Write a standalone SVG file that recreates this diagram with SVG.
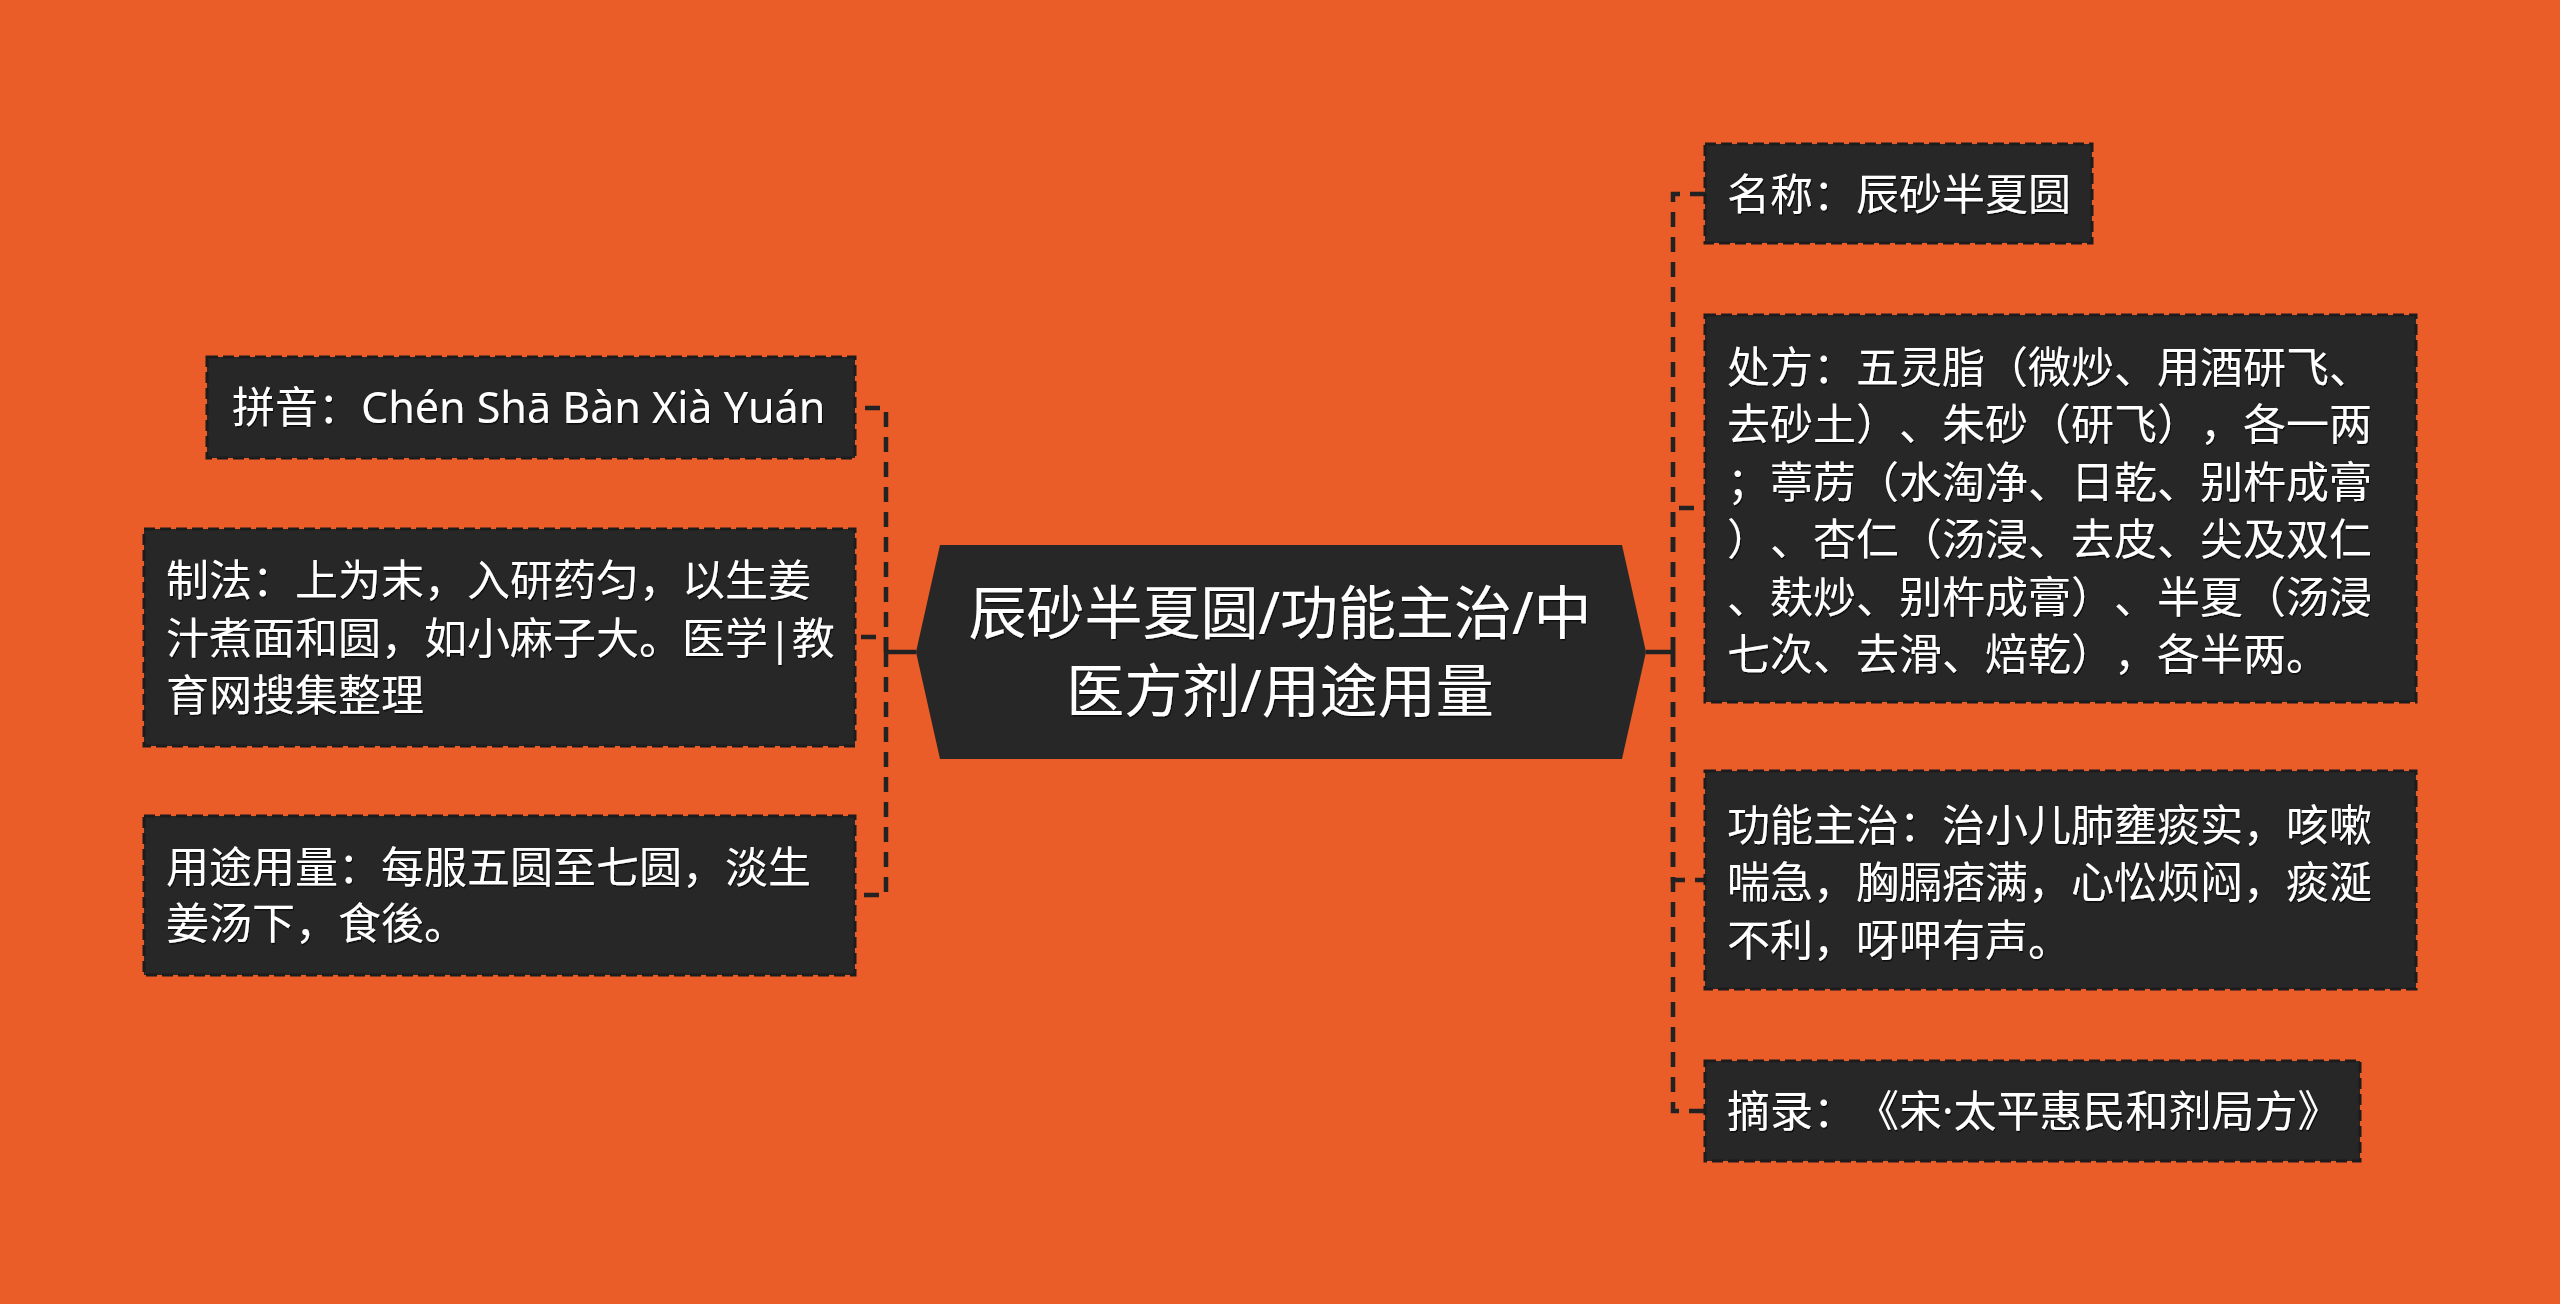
<svg xmlns="http://www.w3.org/2000/svg" width="2560" height="1304" viewBox="0 0 2560 1304">
<defs>
<filter id="ts" x="-5%" y="-20%" width="110%" height="140%">
<feDropShadow dx="1" dy="1.5" stdDeviation="0.6" flood-color="#000" flood-opacity="0.7"/>
</filter>
<style>
text{text-spacing-trim:space-all;font-kerning:none;}
.box{fill:#272727;stroke:#1c1c1c;stroke-width:3;stroke-dasharray:11 5;}
.core{fill:#272727;}
.t{font-family:"Noto Sans","Noto Sans CJK SC",sans-serif;font-size:43px;fill:#ffffff;filter:url(#ts);}
.ct{font-family:"Noto Sans","Noto Sans CJK SC",sans-serif;font-size:58px;fill:#ffffff;text-anchor:middle;filter:url(#ts);}
.dash{fill:none;stroke:#222222;stroke-width:4.5;stroke-dasharray:15 10;}
.solid{fill:none;stroke:#222222;stroke-width:4.5;}
</style>
</defs>
<rect x="0" y="0" width="2560" height="1304" fill="#EA5D28"/>
<g id="connectors">
<path class="solid" d="M916,652 H886"/>
<path class="dash" d="M886,652 V408 H855"/>
<path class="dash" d="M886,652 V637 H855"/>
<path class="dash" d="M886,652 V895 H855"/>
<path class="solid" d="M1646,652 H1673"/>
<path class="dash" d="M1673,652 V194 H1705"/>
<path class="dash" d="M1673,652 V508 H1705"/>
<path class="dash" d="M1673,652 V880 H1705"/>
<path class="dash" d="M1673,652 V1111 H1705"/>
</g>
<g id="center">
<polygon class="core" points="916,652 940,545 1622,545 1646,652 1622,759 940,759"/>
<text class="ct" x="1280" y="634">辰砂半夏圆/功能主治/中</text>
<text class="ct" x="1280" y="712">医方剂/用途用量</text>
</g>
<g id="node-mingcheng">
<rect class="box" x="1705" y="144" width="387" height="99"/>
<text class="t" x="1727" y="210">名称：辰砂半夏圆</text>
</g>
<g id="node-chufang">
<rect class="box" x="1705" y="315" width="711" height="387"/>
<text class="t" x="1727" y="383">处方：五灵脂（微炒、用酒研飞、</text>
<text class="t" x="1727" y="440">去砂土）、朱砂（研飞），各一两</text>
<text class="t" x="1727" y="498">；葶苈（水淘净、日乾、别杵成膏</text>
<text class="t" x="1727" y="555">）、杏仁（汤浸、去皮、尖及双仁</text>
<text class="t" x="1727" y="613">、麸炒、别杵成膏）、半夏（汤浸</text>
<text class="t" x="1727" y="670">七次、去滑、焙乾），各半两。</text>
</g>
<g id="node-gongneng">
<rect class="box" x="1705" y="771" width="711" height="218"/>
<text class="t" x="1727" y="841">功能主治：治小儿肺壅痰实，咳嗽</text>
<text class="t" x="1727" y="898">喘急，胸膈痞满，心忪烦闷，痰涎</text>
<text class="t" x="1727" y="956">不利，呀呷有声。</text>
</g>
<g id="node-zhailu">
<rect class="box" x="1705" y="1061" width="655" height="100"/>
<text class="t" x="1727" y="1127">摘录：《宋·太平惠民和剂局方》</text>
</g>
<g id="node-pinyin">
<rect class="box" x="207" y="357" width="648" height="101"/>
<text class="t" x="232" y="423">拼音：Chén Shā Bàn Xià Yuán</text>
</g>
<g id="node-zhifa">
<rect class="box" x="144" y="529" width="711" height="217"/>
<text class="t" x="166" y="596">制法：上为末，入研药匀，以生姜</text>
<text class="t" x="166" y="654">汁煮面和圆，如小麻子大。医学|教</text>
<text class="t" x="166" y="711">育网搜集整理</text>
</g>
<g id="node-yongtu">
<rect class="box" x="144" y="816" width="711" height="159"/>
<text class="t" x="166" y="883">用途用量：每服五圆至七圆，淡生</text>
<text class="t" x="166" y="939">姜汤下，食後。</text>
</g>
</svg>
